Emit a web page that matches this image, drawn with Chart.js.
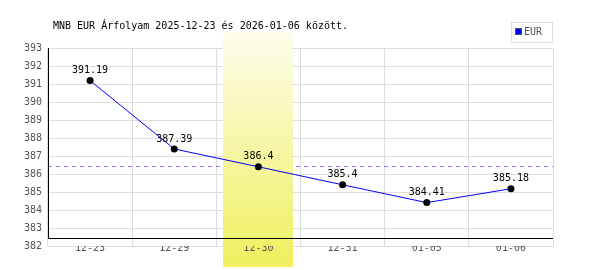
<!DOCTYPE html>
<html>
<head>
<meta charset="utf-8">
<script src="https://cdn.jsdelivr.net/npm/chart.js@4.4.1/dist/chart.umd.min.js"></script>
<style>
  body { margin: 0; background: #fff; }
  #wrap { width: 600px; height: 270px; }
</style>
</head>
<body>
<div id="wrap"><canvas id="chart"></canvas></div>
<script>
const chartTitle = "MNB EUR Árfolyam 2025-12-23 és 2026-01-06 között.";
const labels = ["12-23", "12-29", "12-30", "12-31", "01-05", "01-06"];
const eurRates = [391.19, 387.39, 386.4, 385.4, 384.41, 385.18];
const referenceLine = 386.44;
const highlighted = "12-30";
const yMin = 382;
const yMax = 393;

const mono = "'DejaVu Sans Mono', 'Liberation Mono', monospace";

const decorations = {
  id: "decorations",
  beforeDatasetsDraw(chart) {
    const { ctx, chartArea: a, scales: { x, y } } = chart;
    ctx.save();
    // dashed reference line (under the band)
    const ry = Math.round(y.getPixelForValue(referenceLine)) + 0.5;
    ctx.strokeStyle = "#8080ff";
    ctx.lineWidth = 1;
    ctx.setLineDash([4, 4]);
    ctx.beginPath();
    ctx.moveTo(a.left, ry);
    ctx.lineTo(a.right, ry);
    ctx.stroke();
    ctx.setLineDash([]);

    // highlighted day
    const i = labels.indexOf(highlighted);
    const cx = x.getPixelForValue(i);
    const w = (a.right - a.left) / labels.length * 0.83;
    const top = 32, bottom = 267;
    const g = ctx.createLinearGradient(0, top, 0, bottom);
    g.addColorStop(0, "#fdfdec");
    g.addColorStop(1, "#efef5e");
    ctx.fillStyle = g;
    ctx.fillRect(Math.round(cx - w / 2), top, Math.round(w), bottom - top);

    // axis lines
    const base = Math.round(a.bottom - 8) + 0.5;
    ctx.strokeStyle = "#000";
    ctx.beginPath();
    ctx.moveTo(a.left + 0.5, a.top);
    ctx.lineTo(a.left + 0.5, base);
    ctx.lineTo(a.right, base);
    ctx.stroke();
    ctx.restore();
  },
  afterDatasetsDraw(chart) {
    const { ctx } = chart;
    const meta = chart.getDatasetMeta(0);
    ctx.save();
    ctx.font = "10px " + mono;
    ctx.fillStyle = "#000";
    ctx.textAlign = "center";
    ctx.textBaseline = "bottom";
    meta.data.forEach((pt, i) => {
      ctx.fillText(String(eurRates[i]), pt.x, pt.y - 5);
    });
    ctx.restore();
  },
  afterDraw(chart) {
    const { ctx } = chart;
    ctx.save();
    ctx.font = "10px " + mono;
    ctx.fillStyle = "#000";
    ctx.textBaseline = "alphabetic";
    ctx.fillText(chartTitle, 53, 29);

    // legend box
    ctx.strokeStyle = "#dddddd";
    ctx.fillStyle = "#fff";
    ctx.fillRect(511.5, 22.5, 41, 20);
    ctx.strokeRect(511.5, 22.5, 41, 20);
    ctx.fillStyle = "#0000ff";
    ctx.fillRect(516, 29, 5, 5);
    ctx.strokeStyle = "#555";
    ctx.strokeRect(515.5, 28.5, 6, 6);
    ctx.fillStyle = "#555";
    ctx.textBaseline = "middle";
    ctx.fillText(chart.data.datasets[0].label, 524, 32.5);
    ctx.restore();
  }
};

new Chart(document.getElementById("chart"), {
  type: "line",
  data: {
    labels: labels,
    datasets: [{
      label: "EUR",
      data: eurRates,
      borderColor: "#0000ff",
      borderWidth: 1,
      tension: 0,
      pointRadius: 3.5,
      pointHoverRadius: 3.5,
      pointBackgroundColor: "#000",
      pointBorderWidth: 0,
      clip: false
    }]
  },
  options: {
    responsive: true,
    maintainAspectRatio: false,
    animation: false,
    layout: { padding: { top: 48, right: 47, left: 0, bottom: 0 } },
    plugins: {
      legend: { display: false },
      title: { display: false },
      tooltip: { enabled: false }
    },
    scales: {
      x: {
        offset: true,
        grid: { color: "#dddddd", offset: true, drawTicks: false },
        border: { display: false },
        ticks: { color: "#555", font: { family: mono, size: 10 }, padding: -4, z: 1 },
        afterFit(s) { s.height = 24; }
      },
      y: {
        min: yMin,
        max: yMax,
        grid: { color: "#dddddd", drawTicks: false },
        border: { display: false },
        ticks: { stepSize: 1, color: "#555", font: { family: mono, size: 10 }, padding: 6 },
        afterFit(s) { s.width = 48; }
      }
    }
  },
  plugins: [decorations]
});
</script>
</body>
</html>
